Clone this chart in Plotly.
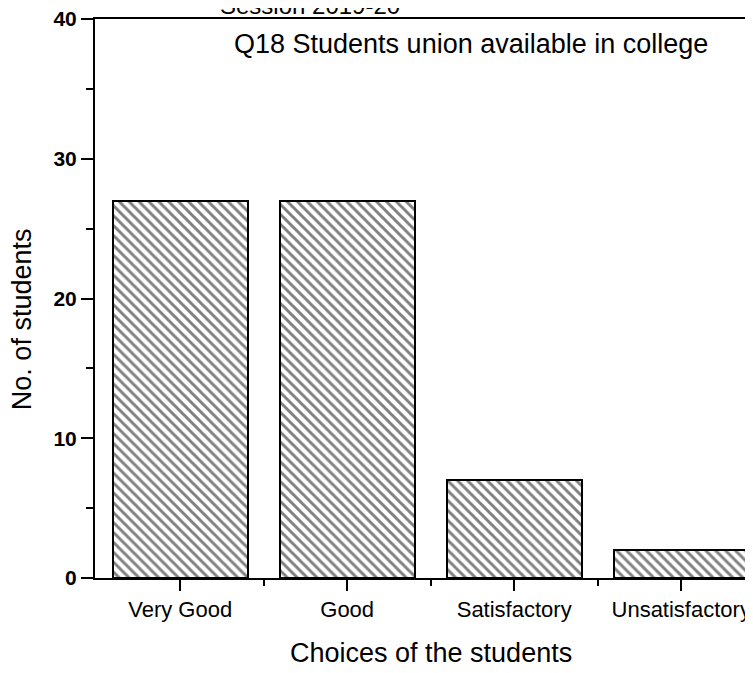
import plotly.graph_objects as go

categories = ["Very Good", "Good", "Satisfactory", "Unsatisfactory"]
students = [27, 27, 7, 2]
y_ticks = [0, 10, 20, 30, 40]

FONT = "Liberation Sans, Arial, sans-serif"
xpos = list(range(len(categories)))

fig = go.Figure()
fig.add_trace(go.Bar(
    x=xpos, y=students, width=0.81,
    marker=dict(color="white", line=dict(color="black", width=2),
                pattern=dict(shape="\\", fgcolor="black", bgcolor="white", size=7, solidity=0.42)),
    showlegend=False,
))

# the page adds an 8px body margin, so margins are shifted by that
fig.update_layout(
    width=753, height=673,
    margin=dict(l=87, r=8, t=11, b=103, autoexpand=False),
    plot_bgcolor="white", paper_bgcolor="white",
    font=dict(family=FONT, color="black"),
    bargap=0,
    annotations=[
        dict(text="Q18 Students union available in college", x=0.571, y=0.955,
             xref="paper", yref="paper", xanchor="center", yanchor="middle",
             showarrow=False, font=dict(size=27)),
        dict(text="Session 2019-20", x=0.327, y=1.025, xref="paper", yref="paper",
             xanchor="center", yanchor="middle", showarrow=False, font=dict(size=24)),
        # axis titles placed by hand, as in the scan
        dict(text="Choices of the students", x=0.511, y=-0.134, xref="paper", yref="paper",
             xanchor="center", yanchor="middle", showarrow=False, font=dict(size=27)),
        dict(text="No. of students", x=-0.111, y=0.463, xref="paper", yref="paper",
             xanchor="center", yanchor="middle", textangle=-90, showarrow=False,
             font=dict(size=27)),
    ],
)

fig.update_xaxes(
    range=[-0.51, 3.43], tickvals=xpos, ticktext=categories, automargin=False,
    ticklabeloverflow="allow",
    showline=True, linecolor="black", linewidth=2, mirror=True,
    ticks="outside", ticklen=11, tickwidth=2, tickcolor="black",
    minor=dict(tickvals=[0.5, 1.5, 2.5], ticks="outside", ticklen=6, tickwidth=2, tickcolor="black"),
    tickfont=dict(size=22), showgrid=False, zeroline=False,
)
fig.update_yaxes(
    range=[0, 40], tickvals=y_ticks, automargin=False,
    ticklabeloverflow="allow",
    showline=True, linecolor="black", linewidth=2,
    ticks="outside", ticklen=12, tickwidth=2, tickcolor="black",
    minor=dict(dtick=5, ticks="outside", ticklen=7, tickwidth=2, tickcolor="black", showgrid=False),
    tickfont=dict(size=21, weight="bold"),
    showgrid=False, zeroline=False,
)

fig.write_html("out.html")
